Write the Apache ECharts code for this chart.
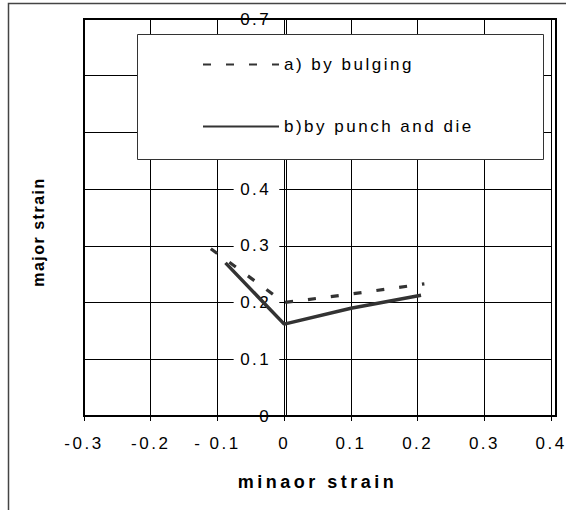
<!DOCTYPE html>
<html>
<head>
<meta charset="utf-8">
<script src="https://cdn.jsdelivr.net/npm/echarts@6/dist/echarts.min.js"></script>
<style>
  html, body { margin: 0; padding: 0; background: #fff; }
  #chart { width: 566px; height: 510px; }
  /* Excel-like wide tracking on all chart text */
  #chart text { letter-spacing: 2.5px; }
  #chart text[style*="bold"] { letter-spacing: 3.5px; }
  #chart text[style*="bold"][style*="16px"] { letter-spacing: 1.5px; }
</style>
</head>
<body>
<div id="chart"></div>
<script>
// Forming limit data: minor strain (x) vs major strain (y)
const seriesNames = ['a) by bulging', 'b)by punch and die'];
const minorBulging = [-0.11, 0, 0.1, 0.21];
const majorBulging = [0.295, 0.2, 0.215, 0.233];
const minorPunch = [-0.088, 0, 0.1, 0.205];
const majorPunch = [0.27, 0.162, 0.19, 0.213];

const xTickLabels = ['-0.3', '-0.2', '- 0.1', '0', '0.1', '0.2', '0.3', '0.4'];
const yTickLabels = ['0', '0.1', '0.2', '0.3', '0.4', '0.5', '0.6', '0.7'];

const xTitle = 'minaor strain';
const yTitle = 'major strain';

const FONT = 'Liberation Sans, Arial, sans-serif';
const plot = { left: 84, top: 19, right: 10, bottom: 94 };
const W = 566, H = 510;
const xMin = -0.3, xMax = 0.4;

// the value axis crosses the minor-strain axis at 0: shift it in from the left edge
const plotWidth = W - plot.left - plot.right;
const crossOffset = (0 - xMin) / (xMax - xMin) * plotWidth;

const pairs = (xs, ys) => xs.map((x, i) => [x, ys[i]]);

const chart = echarts.init(document.getElementById('chart'), null, { renderer: 'svg' });

chart.setOption({
  animation: false,
  backgroundColor: '#fff',
  textStyle: { fontFamily: FONT, color: '#000' },
  grid: { left: plot.left, top: plot.top, right: plot.right, bottom: plot.bottom, containLabel: false },
  xAxis: {
    type: 'value', min: xMin, max: xMax, interval: 0.1, z: 0,
    axisLine: { show: false, onZero: false },
    axisTick: { show: true, length: 5, lineStyle: { color: '#000', width: 1 } },
    axisLabel: {
      margin: 19, fontSize: 17, color: '#000', fontFamily: FONT,
      formatter: (v, i) => xTickLabels[i]
    },
    splitLine: { show: true, lineStyle: { color: '#000', width: 1 } },
    name: xTitle, nameLocation: 'middle', nameGap: 57,
    nameTextStyle: { fontSize: 18, fontWeight: 'bold', color: '#000', fontFamily: FONT }
  },
  yAxis: [
    {
      // horizontal grid lines only
      type: 'value', min: 0, max: 0.7, interval: 0.1, z: 0,
      axisLine: { show: false, onZero: false },
      axisTick: { show: false },
      axisLabel: { show: false },
      splitLine: { show: true, lineStyle: { color: '#000', width: 1 } }
    },
    {
      // value axis crossing at minor strain = 0; labels blank out the grid behind them
      // (left padding leaves room for the extra letter spacing)
      type: 'value', min: 0, max: 0.7, interval: 0.1, z: 6, position: 'left',
      offset: -crossOffset,
      axisLine: { show: true, onZero: false, lineStyle: { color: '#000', width: 1 } },
      axisTick: { show: true, length: 7, lineStyle: { color: '#000', width: 1 } },
      axisLabel: {
        margin: 7, fontSize: 17, color: '#000', fontFamily: FONT,
        backgroundColor: '#fff', padding: [1, 8, 0, 14],
        formatter: (v, i) => yTickLabels[i]
      },
      splitLine: { show: false }
    }
  ],
  legend: {
    orient: 'vertical', left: 202, top: 56, z: 9,
    itemWidth: 76, itemHeight: 14, itemGap: 45, padding: 0,
    itemStyle: { color: 'rgba(0,0,0,0)', borderWidth: 0, opacity: 0 },
    textStyle: { fontSize: 17, color: '#000', fontFamily: FONT },
    data: seriesNames
  },
  series: [
    {
      name: seriesNames[0], type: 'line', z: 7, symbol: 'none', yAxisIndex: 0,
      data: pairs(minorBulging, majorBulging),
      lineStyle: { color: '#333', width: 3.2, type: [8, 15] },
      itemStyle: { color: '#333' }
    },
    {
      name: seriesNames[1], type: 'line', z: 7, symbol: 'none', yAxisIndex: 0,
      data: pairs(minorPunch, majorPunch),
      lineStyle: { color: '#333', width: 3.5, type: 'solid' },
      itemStyle: { color: '#333' }
    }
  ],
  graphic: [
    {
      // legend box
      type: 'rect', z: 8, silent: true,
      shape: { x: 137.5, y: 34.5, width: 406, height: 125 },
      style: { fill: '#fff', stroke: '#333', lineWidth: 1 }
    },
    {
      // plot area frame
      type: 'rect', z: 10, silent: true,
      shape: { x: plot.left, y: plot.top, width: plotWidth, height: H - plot.top - plot.bottom },
      style: { fill: 'none', stroke: '#000', lineWidth: 2 }
    },
    {
      // outer chart frame
      type: 'rect', z: 10, silent: true,
      shape: { x: 8.5, y: 3.5, width: 600, height: 600 },
      style: { fill: 'none', stroke: '#444', lineWidth: 1.5 }
    },
    {
      type: 'text', z: 10, silent: true,
      x: 38, y: 232, rotation: Math.PI / 2,
      style: {
        text: yTitle, fontSize: 16, fontWeight: 'bold', fontFamily: FONT,
        fill: '#000', align: 'center', verticalAlign: 'middle'
      }
    }
  ]
});
</script>
</body>
</html>
